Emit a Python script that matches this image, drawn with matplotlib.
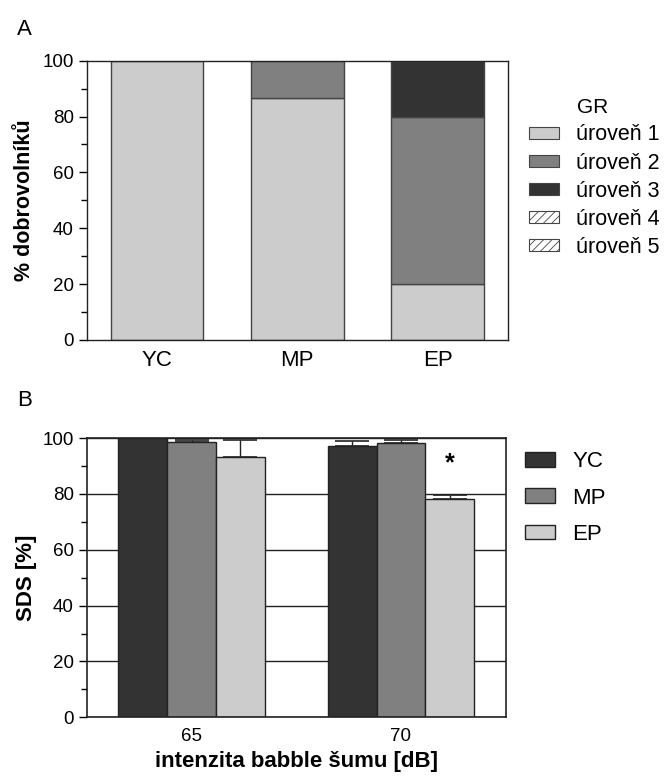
import numpy as np
import matplotlib.pyplot as plt
from matplotlib.patches import Patch

plt.rcParams['font.family'] = ['Liberation Sans', 'DejaVu Sans']
plt.rcParams['font.size'] = 13.5
plt.rcParams['hatch.linewidth'] = 0.6

# panel A: share of volunteers by GR level
groups = ["YC", "MP", "EP"]
level_names = ["úroveň 1", "úroveň 2", "úroveň 3", "úroveň 4", "úroveň 5"]
level1 = [100, 86.7, 20]
level2 = [0, 13.3, 60]
level3 = [0, 0, 20]
level4 = [0, 0, 0]
level5 = [0, 0, 0]

# panel B: SDS by babble noise level
noise_db = ["65", "70"]
sds_yc = [100, 97.2]
sds_mp = [98.4, 98.1]
sds_ep = [93.1, 78.1]
err_yc = [0, 1.7]
err_mp = [0.9, 1.2]
err_ep = [6.2, 1.6]

light = "#cccccc"
mid = "#808080"
dark = "#333333"

fig = plt.figure(figsize=(6.68, 7.78), dpi=100)
axA = fig.add_axes([0.130, 0.563, 0.630, 0.359])
axB = fig.add_axes([0.130, 0.078, 0.627, 0.359])

# --- A ---
x = np.arange(len(groups))
w = 0.66
levels = [level1, level2, level3, level4, level5]
faces = [light, mid, dark, "white", "white"]
hatches = [None, None, None, "////", "////"]
bottom = np.zeros(len(groups))
for vals, fc, h in zip(levels, faces, hatches):
    vals = np.array(vals, dtype=float)
    mask = vals > 0
    if mask.any():
        axA.bar(x[mask], vals[mask], w, bottom=bottom[mask], color=fc,
                edgecolor="#444444", linewidth=1.0, hatch=h)
    bottom += vals
axA.set_xlim(-0.5, 2.5)
axA.set_ylim(0, 100)
axA.set_xticks(x)
axA.set_xticklabels(groups, fontsize=16)
axA.set_yticks(np.arange(0, 101, 20))
axA.set_yticks(np.arange(0, 101, 10), minor=True)
axA.tick_params(axis="x", length=0, pad=7)
axA.tick_params(axis="y", which="major", length=6, width=1)
axA.tick_params(axis="y", which="minor", length=4, width=1)
axA.set_ylabel("% dobrovolníků", fontweight="bold", fontsize=15.5,
               labelpad=5)
for s in axA.spines.values():
    s.set_linewidth(1.0)
    s.set_color("#222222")

handlesA = [Patch(facecolor=fc, edgecolor="#444444", hatch=h, linewidth=0.8)
            for fc, h in zip(faces, hatches)]
legA = axA.legend(handlesA, level_names, title="GR", loc="upper left",
                  bbox_to_anchor=(1.05, 0.865), frameon=False, fontsize=15.5,
                  handlelength=1.4, handleheight=0.47, handletextpad=0.8,
                  labelspacing=0.33, borderaxespad=0, borderpad=0,
                  alignment="left")
legA.get_title().set_fontsize(15)
legA.get_title().set_position((48, 0))

# --- B ---
xb = np.arange(len(noise_db))
wb = 0.233
series = [(sds_yc, err_yc, dark, "YC"), (sds_mp, err_mp, mid, "MP"),
          (sds_ep, err_ep, light, "EP")]
for i, (vals, errs, fc, name) in enumerate(series):
    pos = xb + (i - 1) * wb
    axB.bar(pos, vals, wb, color=fc, edgecolor="#222222", linewidth=1.0,
            label=name, zorder=2)
    axB.errorbar(pos, vals, yerr=[np.zeros(len(errs)), errs], fmt="none",
                 ecolor="#222222", elinewidth=1.0, capsize=12, capthick=1.2,
                 zorder=3)
axB.text(1 + wb, 91, "*", ha="center", va="center", fontsize=18,
         fontweight="bold")
axB.set_xlim(-0.5, 1.5)
axB.set_ylim(0, 100)
axB.set_xticks(xb)
axB.set_xticklabels(noise_db)
axB.set_yticks(np.arange(0, 101, 20))
axB.set_yticks(np.arange(0, 101, 10), minor=True)
axB.yaxis.grid(True, which="major", color="#222222", linewidth=1.0, zorder=0)
axB.set_axisbelow(True)
axB.tick_params(axis="x", length=0, pad=8)
axB.tick_params(axis="y", which="major", length=6, width=1)
axB.tick_params(axis="y", which="minor", length=4, width=1)
axB.set_ylabel("SDS [%]", fontweight="bold", fontsize=16, labelpad=4)
axB.set_xlabel("intenzita babble šumu [dB]", fontweight="bold", fontsize=16,
               labelpad=4)
for s in axB.spines.values():
    s.set_linewidth(1.2)
    s.set_color("#222222")
axB.legend(loc="upper left", bbox_to_anchor=(1.045, 0.952), frameon=False,
           fontsize=16, handlelength=1.35, handleheight=0.63,
           handletextpad=0.8, labelspacing=0.68, borderaxespad=0, borderpad=0)

fig.text(0.025, 0.962, "A", fontsize=16, va="center")
fig.text(0.025, 0.485, "B", fontsize=16, va="center")

fig.savefig("out.png", dpi=100)
